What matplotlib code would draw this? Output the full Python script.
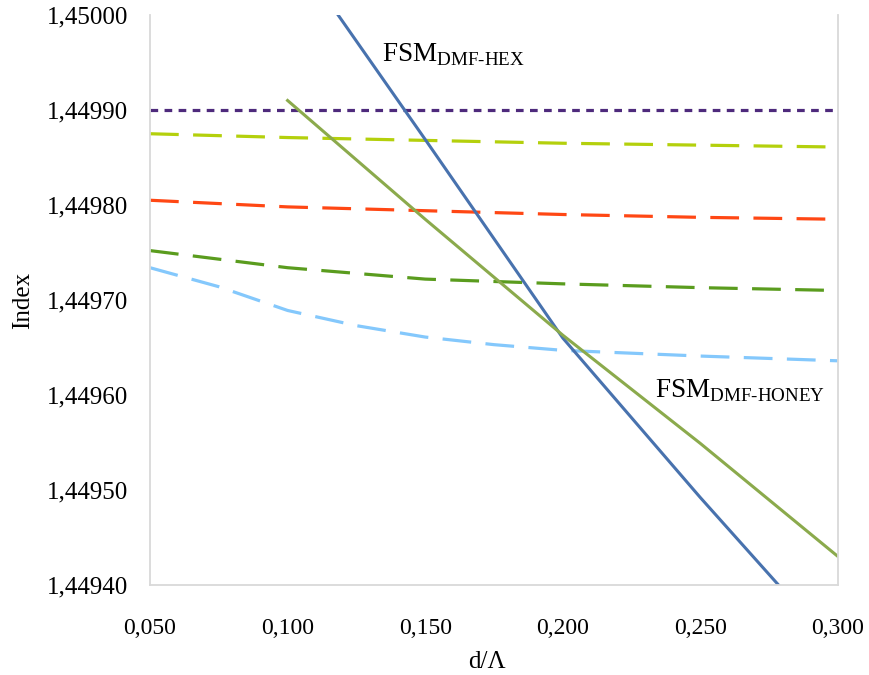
import numpy as np
import matplotlib.pyplot as plt
from matplotlib.ticker import FuncFormatter

plt.rcParams['font.family'] = ['Liberation Serif', 'DejaVu Serif']
plt.rcParams['mathtext.fontset'] = 'custom'
plt.rcParams['mathtext.rm'] = 'Liberation Serif'

# d/Lambda sample points
x = [0.05, 0.10, 0.15, 0.20, 0.25, 0.30]

# dashed series (mode indices)
purple = [1.449900, 1.449900, 1.449900, 1.449900, 1.449900, 1.449900]
lime = [1.449875, 1.449871, 1.449868, 1.449865, 1.449863, 1.449861]
orange = [1.449805, 1.449798, 1.449794, 1.449790, 1.449787, 1.449785]
green = [1.449752, 1.449734, 1.449722, 1.449717, 1.449713, 1.449710]

x_sky = [0.05, 0.075, 0.10, 0.125, 0.15, 0.175, 0.20, 0.25, 0.30]
skyblue = [1.449734, 1.449714, 1.449689, 1.449673, 1.449661, 1.449653,
           1.449647, 1.449641, 1.449636]

# FSM curves
x_fsm = [0.10, 0.15, 0.20, 0.25, 0.30]
fsm_hex = [1.450076, 1.449869, 1.449660, 1.449492, 1.449330]
fsm_honey = [1.449910, 1.449785, 1.449663, 1.449549, 1.449430]

xticks = [0.05, 0.10, 0.15, 0.20, 0.25, 0.30]
yticks = [1.4494, 1.4495, 1.4496, 1.4497, 1.4498, 1.4499, 1.4500]

fig = plt.figure(figsize=(8.7, 6.75), dpi=100)
ax = fig.add_axes([0.1724, 0.1333, 0.7908, 0.8445])

lw = 2.3
ax.plot(x, purple, color='#4E2A7C', lw=lw, dashes=(2.4, 2.0))
ax.plot(x, lime, color='#B4D00C', lw=lw, dashes=(9, 4.5))
ax.plot(x, orange, color='#FF4714', lw=lw, dashes=(9, 4.5))
ax.plot(x, green, color='#5A9C1E', lw=lw, dashes=(9, 4.5))
ax.plot(x_sky, skyblue, color='#84C8FC', lw=lw, dashes=(9, 4.5))

ax.plot(x_fsm, fsm_hex, color='#4872AE', lw=2.2)
ax.plot(x_fsm, fsm_honey, color='#8BAA4C', lw=2.2)

ax.set_xlim(0.05, 0.30)
ax.set_ylim(1.4494, 1.4500)
ax.set_xticks(xticks)
ax.set_yticks(yticks)
ax.xaxis.set_major_formatter(FuncFormatter(lambda v, p: f"{v:.3f}".replace('.', ',')))
ax.yaxis.set_major_formatter(FuncFormatter(lambda v, p: f"{v:.5f}".replace('.', ',')))
ax.tick_params(axis='both', length=0)
ax.tick_params(axis='y', labelsize=18, pad=16)
ax.tick_params(axis='x', labelsize=17, pad=24)

for s in ['left', 'right', 'bottom']:
    ax.spines[s].set_color('#D9D9D9')
    ax.spines[s].set_linewidth(1.3)
ax.spines['top'].set_visible(False)

ax.set_xlabel('d/Λ', fontsize=18)
ax.set_ylabel('Index', fontsize=18)
ax.xaxis.set_label_coords(0.49, -0.115)
ax.yaxis.set_label_coords(-0.168, 0.5)

ax.text(0.1343, 1.449958, r'FSM$_{\text{DMF-HEX}}$', fontsize=19.5, va='center')
ax.text(0.2335, 1.449605, r'FSM$_{\text{DMF-HONEY}}$', fontsize=19.5, va='center')

fig.savefig('out.png', dpi=100)
